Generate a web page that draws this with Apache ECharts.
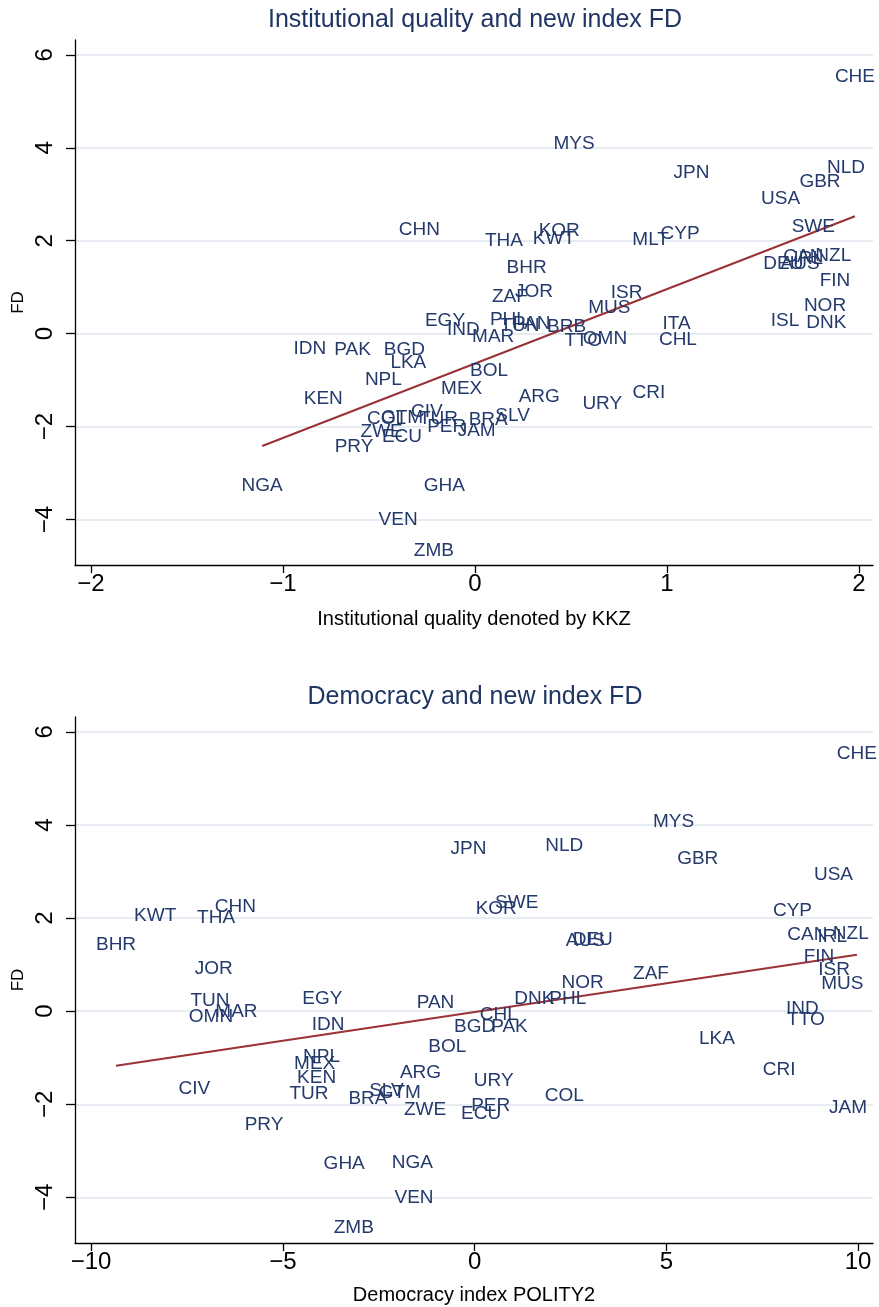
<!DOCTYPE html>
<html>
<head>
<meta charset="utf-8">
<script src="https://cdn.jsdelivr.net/npm/echarts@6/dist/echarts.min.js"></script>
<style>
html,body{margin:0;padding:0;background:#fff;}
#chart{width:879px;height:1307px;}
</style>
</head>
<body>
<div id="chart"></div>
<script>
// ---- Panel 1: Institutional quality (KKZ) vs FD ----
const topLabels = ["CHE","MYS","JPN","NLD","GBR","USA","CHN","THA","KOR","KWT","MLT","CYP","SWE","CAN","IRL","NZL","DEU","AUS","FIN","BHR","JOR","ZAF","ISR","MUS","EGY","IND","PHL","TUN","PAN","BRB","MAR","TTO","OMN","ITA","CHL","NOR","ISL","DNK","IDN","PAK","BGD","LKA","NPL","BOL","MEX","KEN","ARG","URY","CRI","COL","GTM","CIV","TUR","ZWE","ECU","PRY","PER","JAM","BRA","SLV","NGA","GHA","VEN","ZMB"];
const topKKZ = [1.979,0.516,1.128,1.932,1.797,1.592,-0.29,0.151,0.439,0.411,0.915,1.068,1.762,1.71,1.736,1.866,1.606,1.693,1.875,0.269,0.307,0.182,0.79,0.70,-0.156,-0.061,0.174,0.234,0.295,0.477,0.095,0.564,0.677,1.05,1.057,1.823,1.615,1.83,-0.86,-0.637,-0.368,-0.347,-0.477,0.073,-0.069,-0.79,0.335,0.663,0.906,-0.46,-0.38,-0.25,-0.19,-0.486,-0.38,-0.63,-0.147,0.009,0.069,0.196,-1.108,-0.16,-0.40,-0.214];
const topFD = [5.53,4.08,3.47,3.56,3.27,2.91,2.23,2.00,2.215,2.04,2.03,2.14,2.30,1.655,1.62,1.67,1.51,1.50,1.14,1.42,0.90,0.79,0.88,0.556,0.27,0.075,0.306,0.16,0.205,0.147,-0.07,-0.155,-0.12,0.22,-0.125,0.60,0.276,0.23,-0.32,-0.355,-0.34,-0.63,-1.0,-0.80,-1.18,-1.40,-1.35,-1.52,-1.27,-1.83,-1.81,-1.685,-1.83,-2.12,-2.21,-2.44,-2.01,-2.09,-1.86,-1.76,-3.265,-3.265,-4.0,-4.67];

// ---- Panel 2: Democracy (POLITY2) vs FD ----
const botLabels = ["CHE","MYS","JPN","NLD","GBR","USA","CYP","KOR","SWE","KWT","THA","CHN","BHR","AUS","DEU","CAN","IRL","NZL","FIN","JOR","ISR","ZAF","NOR","MUS","TUN","EGY","PAN","DNK","PHL","IND","MAR","OMN","CHL","TTO","IDN","BGD","PAK","LKA","BOL","NPL","MEX","KEN","CRI","ARG","URY","CIV","SLV","GTM","TUR","COL","BRA","PER","JAM","ZWE","ECU","PRY","NGA","GHA","VEN","ZMB"];
const botPolity = [9.97,5.19,-0.16,2.34,5.82,9.36,8.29,0.565,1.10,-8.33,-6.74,-6.24,-9.35,2.89,3.08,8.68,9.33,9.81,8.98,-6.80,9.375,4.60,2.82,9.59,-6.90,-3.97,-1.02,1.56,2.43,8.55,-6.21,-6.875,0.63,8.64,-3.82,0.0,0.91,6.32,-0.71,-3.99,-4.17,-4.12,7.94,-1.41,0.50,-7.31,-2.30,-1.95,-4.32,2.34,-2.78,0.42,9.74,-1.29,0.17,-5.49,-1.62,-3.40,-1.58,-3.15];
const botFD = [5.54,4.08,3.49,3.56,3.27,2.92,2.155,2.21,2.32,2.05,2.0,2.25,1.42,1.51,1.53,1.64,1.59,1.67,1.17,0.92,0.88,0.81,0.62,0.58,0.22,0.27,0.19,0.26,0.27,0.06,-0.015,-0.12,-0.086,-0.18,-0.30,-0.34,-0.34,-0.60,-0.77,-0.97,-1.13,-1.42,-1.25,-1.33,-1.50,-1.67,-1.72,-1.75,-1.77,-1.81,-1.88,-2.03,-2.07,-2.12,-2.20,-2.44,-3.25,-3.27,-4.0,-4.65];

// tick values
const topXTicks = [-2,-1,0,1,2];
const botXTicks = [-10,-5,0,5,10];
const yTicks = [-4,-2,0,2,4,6];

const titles = ["Institutional quality and new index FD","Democracy and new index FD"];
const xTitles = ["Institutional quality denoted by KKZ","Democracy index POLITY2"];
const yTitle = "FD";

function olsLine(xs, ys){
  const n = xs.length;
  let mx=0,my=0; for(let i=0;i<n;i++){mx+=xs[i];my+=ys[i];} mx/=n; my/=n;
  let sxy=0,sxx=0; for(let i=0;i<n;i++){sxy+=(xs[i]-mx)*(ys[i]-my); sxx+=(xs[i]-mx)*(xs[i]-mx);}
  const b=sxy/sxx, a=my-b*mx;
  const x0=Math.min(...xs), x1=Math.max(...xs);
  return [[x0,a+b*x0],[x1,a+b*x1]];
}

const FONT = "'Liberation Sans', Arial, Helvetica, sans-serif";
const LABEL_COLOR = '#243a6c';
const TITLE_COLOR = '#1f3664';
const GRID_COLOR = '#dfe6ef';
const FIT_COLOR = '#9a3237';
const minus = v => String(v).replace('-', '\u2212');

const chart = echarts.init(document.getElementById('chart'), null, {renderer:'canvas'});

const panels = [
  {top:40, height:525, xr:[-2.083,2.073], xt:[-2,2,1], labels:topLabels, xs:topKKZ, ys:topFD, nameGap:44},
  {top:717, height:526, xr:[-10.42,10.39], xt:[-10,10,5], labels:botLabels, xs:botPolity, ys:botFD, nameGap:42}
];
const yr = [-4.98, 6.32];
const PL = 75, PW = 798;

const grid=[], xAxis=[], yAxis=[], series=[], title=[];
panels.forEach((p, k) => {
  const ppu = p.height / (yr[1]-yr[0]);
  const yTop = p.top + (yr[1]-6)*ppu;
  const yH = 10*ppu;
  const xppu = PW/(p.xr[1]-p.xr[0]);
  const xLeft = PL + (p.xt[0]-p.xr[0])*xppu;
  const xW = (p.xt[1]-p.xt[0])*xppu;
  const g0 = grid.length;
  const gb = {containLabel:false, outerBoundsMode:'none'};
  grid.push(Object.assign({left:PL, top:p.top, width:PW, height:p.height}, gb));     // plot
  grid.push(Object.assign({left:PL, top:yTop, width:PW, height:yH}, gb));             // y ticks
  grid.push(Object.assign({left:xLeft, top:p.top, width:xW, height:p.height}, gb));   // x ticks
  const a0 = xAxis.length;
  // plot axes
  xAxis.push({type:'value', gridIndex:g0, min:p.xr[0], max:p.xr[1],
    axisLine:{show:true, onZero:false, lineStyle:{color:'#000', width:1.3}},
    axisTick:{show:false}, axisLabel:{show:false}, splitLine:{show:false},
    name: xTitles[k], nameLocation:'middle', nameGap:p.nameGap,
    nameTextStyle:{fontFamily:FONT, fontSize:20, color:'#000'}});
  yAxis.push({type:'value', gridIndex:g0, min:yr[0], max:yr[1],
    axisLine:{show:true, onZero:false, lineStyle:{color:'#000', width:1.3}},
    axisTick:{show:false}, axisLabel:{show:false}, splitLine:{show:false},
    name: yTitle, nameLocation:'middle', nameGap:48, nameRotate:90,
    nameTextStyle:{fontFamily:FONT, fontSize:17, color:'#000'}});
  // y tick grid
  xAxis.push({type:'value', gridIndex:g0+1, min:0, max:1, show:false});
  yAxis.push({type:'value', gridIndex:g0+1, min:-4, max:6, interval:2,
    axisLine:{show:false}, axisTick:{show:true, length:9, lineStyle:{color:'#000', width:1.3}},
    axisLabel:{show:true, rotate:90, margin:18, fontFamily:FONT, fontSize:24, color:'#000', formatter:minus},
    splitLine:{show:true, lineStyle:{color:GRID_COLOR, width:1.5}}});
  // x tick grid
  xAxis.push({type:'value', gridIndex:g0+2, min:p.xt[0], max:p.xt[1], interval:p.xt[2],
    axisLine:{show:false}, axisTick:{show:true, length:8, lineStyle:{color:'#000', width:1.3}},
    axisLabel:{show:true, margin:7, fontFamily:FONT, fontSize:24, color:'#000', formatter:minus},
    splitLine:{show:false}});
  yAxis.push({type:'value', gridIndex:g0+2, min:0, max:1, show:false});

  title.push({text:titles[k], left:PL+PW/2-4, textAlign:'center', top:p.top-37,
    textStyle:{fontFamily:FONT, fontSize:25, fontWeight:'normal', color:TITLE_COLOR}});

  const fit = olsLine(p.xs, p.ys);
  series.push({type:'line', xAxisIndex:a0, yAxisIndex:a0, data:fit, symbol:'none', silent:true,
    lineStyle:{color:FIT_COLOR, width:2}, z:2, animation:false});
  series.push({type:'scatter', xAxisIndex:a0, yAxisIndex:a0, silent:true, animation:false,
    symbolSize:1, itemStyle:{color:'rgba(0,0,0,0)'},
    data:p.xs.map((x,i)=>({value:[x,p.ys[i]], name:p.labels[i]})),
    label:{show:true, position:'inside', formatter:'{b}', fontFamily:FONT, fontSize:19,
      color:LABEL_COLOR, textBorderWidth:0, opacity:1},
    labelLayout:{hideOverlap:false},
    emphasis:{disabled:true}, z:3});
});

chart.setOption({animation:false, backgroundColor:'#fff', title, grid, xAxis, yAxis, series});
</script>
</body>
</html>
